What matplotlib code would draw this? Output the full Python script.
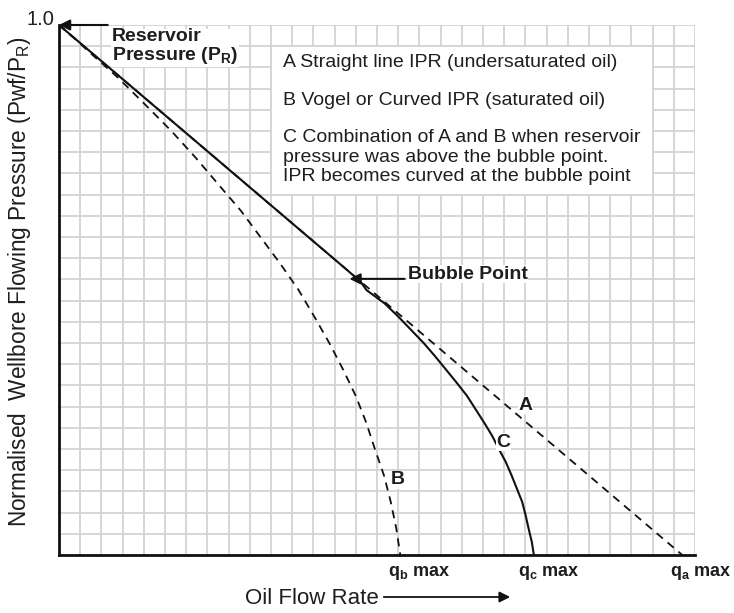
import matplotlib
matplotlib.use("Agg")
import matplotlib.pyplot as plt
from matplotlib.patches import Rectangle, FancyArrowPatch
from matplotlib.ticker import MultipleLocator
from matplotlib.transforms import blended_transform_factory

plt.rcParams["font.family"] = ["Liberation Sans", "DejaVu Sans"]
plt.rcParams["mathtext.fontset"] = "custom"
plt.rcParams["mathtext.rm"] = "Liberation Sans"
plt.rcParams["mathtext.bf"] = "Liberation Sans:bold"

# Curves (x = flow rate in grid cells, y = Pwf/PR)
pwf_a = [1.0, 0.0]
rate_a = [0.0, 29.4]

pwf_b = [1.0, 0.975, 0.95, 0.9, 0.85, 0.8, 0.75, 0.7, 0.65, 0.6, 0.55, 0.5,
         0.45, 0.4, 0.35, 0.3, 0.25, 0.2, 0.15, 0.1, 0.05, 0.0]
rate_b = [0.0, 0.72, 1.4, 2.8, 4.06, 5.3, 6.44, 7.5, 8.57, 9.5, 10.43, 11.3,
          12.04, 12.75, 13.4, 14.0, 14.49, 14.9, 15.33, 15.65, 15.91, 16.1]

pwf_c = [1.0, 0.536, 0.515, 0.5, 0.475, 0.45, 0.425, 0.4, 0.375, 0.35, 0.325, 0.3,
         0.275, 0.25, 0.225, 0.2, 0.175, 0.15, 0.125, 0.1, 0.075, 0.05, 0.025, 0.0]
rate_c = [0.0, 13.64, 14.24, 14.5, 15.35, 16.0, 16.6, 17.2, 17.74, 18.25, 18.76, 19.25,
          19.65, 20.05, 20.43, 20.75, 21.08, 21.35, 21.6, 21.85, 22.01, 22.15, 22.3, 22.4]

bubble_point = (13.7, 0.521)
curve_labels = ["A", "B", "C"]
curve_label_pos = [(22.0, 0.283), (16.0, 0.142), (20.95, 0.213)]

qmax_labels = ["q$_\\mathbf{b}$ max", "q$_\\mathbf{c}$ max", "q$_\\mathbf{a}$ max"]
qmax_label_x = [15.5, 21.65, 28.8]

legend_lines = [
    "A Straight line IPR (undersaturated oil)",
    "B Vogel or Curved IPR (saturated oil)",
    "C Combination of A and B when reservoir",
    "pressure was above the bubble point.",
    "IPR becomes curved at the bubble point",
]
legend_y = [0.930, 0.858, 0.787, 0.750, 0.714]

TEXT = "#1e1e1e"
GRID = "#d3d3d3"

W, H = 734, 613
fig = plt.figure(figsize=(W / 100, H / 100), dpi=100)
ax = fig.add_axes([59 / W, (H - 555) / H, 636 / W, 530 / H])
ax.set_xlim(0, 30)
ax.set_ylim(0, 1)
ax.xaxis.set_major_locator(MultipleLocator(1))
ax.yaxis.set_major_locator(MultipleLocator(0.04))
ax.tick_params(length=0, labelbottom=False, labelleft=False)
ax.set_axisbelow(True)
ax.grid(True, color=GRID, lw=1.3)
for s in ("top", "right"):
    ax.spines[s].set_visible(False)
for s in ("left", "bottom"):
    ax.spines[s].set_linewidth(2.0)
    ax.spines[s].set_color("#111111")
    ax.spines[s].set_zorder(5)

dash = (0, (4.5, 3.4))
ax.plot(rate_a, pwf_a, color="#111111", lw=1.3, ls=dash, zorder=3)
ax.plot(rate_b, pwf_b, color="#111111", lw=1.3, ls=dash, zorder=3)
ax.plot(rate_c, pwf_c, color="#111111", lw=1.5, zorder=3)

# explanation box
ax.add_patch(Rectangle((10, 0.68), 18, 0.28, facecolor="white",
                       edgecolor=GRID, lw=1.3, zorder=2))
for line, y in zip(legend_lines, legend_y):
    ax.text(10.55, y, line, fontsize=14, color=TEXT, va="center", ha="left", zorder=4)

# reservoir pressure
ax.text(2.5, 0.958, "Reservoir\nPressure (P$_\\mathbf{R}$)", fontsize=14,
        fontweight="bold", color=TEXT, va="center", ha="left", linespacing=1.0,
        bbox=dict(facecolor="white", edgecolor="none", pad=0.5), zorder=4)
ax.annotate("", xy=(0, 1.0), xytext=(2.3, 1.0), annotation_clip=False,
            arrowprops=dict(arrowstyle="-|>", color="#111111", lw=1.5,
                            mutation_scale=16, shrinkA=0, shrinkB=0), zorder=6)

# bubble point
ax.text(16.45, 0.530, "Bubble Point", fontsize=14, fontweight="bold", color=TEXT,
        va="center", ha="left",
        bbox=dict(facecolor="white", edgecolor="none", pad=0.5), zorder=4)
ax.annotate("", xy=bubble_point, xytext=(16.3, bubble_point[1]),
            arrowprops=dict(arrowstyle="-|>", color="#111111", lw=1.5,
                            mutation_scale=16, shrinkA=0, shrinkB=0), zorder=6)

for lab, (x, y) in zip(curve_labels, curve_label_pos):
    ax.text(x, y, lab, fontsize=14, fontweight="bold", color=TEXT,
            ha="center", va="center",
            bbox=dict(facecolor="white", edgecolor="none", pad=0.3), zorder=4)

trans = blended_transform_factory(ax.transData, ax.transAxes)
for lab, x in zip(qmax_labels, qmax_label_x):
    ax.text(x, -0.034, lab, transform=trans, fontsize=13, fontweight="bold",
            color=TEXT, ha="left", va="center", clip_on=False)

ax.annotate("1.0", xy=(0, 1.0), xytext=(-3, 4), textcoords="offset points",
            fontsize=14.5, color=TEXT, ha="right", va="center", annotation_clip=False)

fig.text(20 / W, 1 - 282 / H, "Normalised  Wellbore Flowing Pressure (Pwf/P$_\\mathrm{R}$)",
         rotation=90, fontsize=16.3, color=TEXT, ha="center", va="center")
fig.text(245 / W, 1 - 598 / H, "Oil Flow Rate", fontsize=16, color=TEXT,
         ha="left", va="center")
fig.add_artist(FancyArrowPatch(
    (381 / W, 1 - 597 / H), (513 / W, 1 - 597 / H), transform=fig.transFigure,
    arrowstyle="-|>", mutation_scale=16, color="#111111", lw=1.3))

fig.savefig("out.png", dpi=100)
